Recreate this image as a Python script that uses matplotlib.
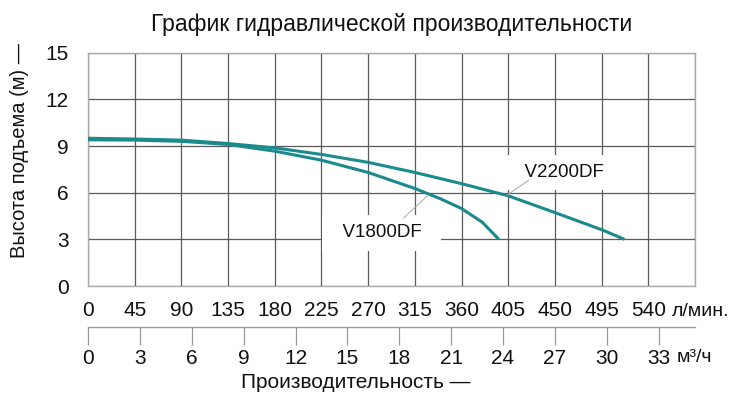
import numpy as np
import matplotlib
matplotlib.use("Agg")
import matplotlib.pyplot as plt

plt.rcParams['font.family'] = ['Liberation Sans', 'DejaVu Sans']

# Data (flow in l/min, head in m)
q_v2200 = [0, 45, 90, 135, 180, 225, 270, 315, 360, 405, 450, 495, 517]
h_v2200 = [9.5, 9.45, 9.38, 9.16, 8.88, 8.46, 7.95, 7.3, 6.58, 5.8, 4.72, 3.62, 3.0]
q_v1800 = [0, 45, 90, 135, 180, 225, 270, 315, 340, 360, 380, 396]
h_v1800 = [9.4, 9.38, 9.3, 9.1, 8.67, 8.09, 7.3, 6.27, 5.6, 4.98, 4.1, 3.0]

x_ticks = list(range(0, 586, 45))
x_labels = [str(v) for v in range(0, 541, 45)] + ['']
y_ticks = [0, 3, 6, 9, 12, 15]
m3_ticks = list(range(0, 34, 3))

title = "График гидравлической производительности"
ylabel = "Высота подъема (м) —"
xlabel = "Производительность —"

W, H = 731, 398
fig = plt.figure(figsize=(W / 100, H / 100), dpi=100)
ax = fig.add_axes([88 / W, 1 - 286 / H, 607 / W, 233.3 / H])

teal = '#1b8a8c'
ax.plot(q_v2200, h_v2200, color=teal, lw=2.2, zorder=4, solid_capstyle='butt',
        solid_joinstyle='round')
ax.plot(q_v1800, h_v1800, color=teal, lw=2.2, zorder=4, solid_capstyle='butt',
        solid_joinstyle='round')

ax.set_xlim(0, 585)
ax.set_ylim(0, 15)
ax.set_xticks(x_ticks)
ax.set_xticklabels(x_labels)
ax.set_yticks(y_ticks)
ax.grid(True, color='#5a5a5a', lw=0.9, zorder=1)
ax.set_axisbelow(True)
for s in ax.spines.values():
    s.set_color('#aaaaaa')
    s.set_linewidth(1.0)
ax.tick_params(axis='x', length=0, pad=11, labelsize=15, colors='#111111')
ax.tick_params(axis='y', length=0, pad=14, labelsize=15, colors='#111111')

# secondary axis m3/h
sec = ax.secondary_xaxis(-0.1745, functions=(lambda q: np.asarray(q) * 0.06,
                                               lambda m: np.asarray(m) / 0.06))
sec.set_xticks(m3_ticks)
sec.tick_params(axis='x', direction='out', length=13, width=0.9, color='#999999',
                pad=3, labelsize=15, labelcolor='#111111')
sec.spines['bottom'].set_color('#999999')
sec.spines['bottom'].set_linewidth(1.0)

# unit labels
fig.text(672 / W, 1 - 311 / H, "л/мин.", fontsize=14, ha='left', va='center', color='#111111')
fig.text(677 / W, 1 - 357 / H, "м³/ч", fontsize=14, ha='left', va='center', color='#111111')

# title and axis labels
fig.text(392 / W, 1 - 24 / H, title, fontsize=16.5, ha='center', va='center', color='#111111')
fig.text(20 / W, 1 - 151 / H, ylabel, fontsize=14.5, rotation=90, ha='center', va='center',
         color='#111111')
fig.text(356 / W, 1 - 383 / H, xlabel, fontsize=15, ha='center', va='center', color='#111111')

# curve labels
box = dict(boxstyle='square,pad=0.5', fc='white', ec='none')
ax.text(marks_x := 459, 7.3, "  V2200DF  ", fontsize=13.5, ha='center', va='center', bbox=box,
        zorder=3, color='#111111')
ax.text(283, 3.42, "  V1800DF  ", fontsize=13.5, ha='center', va='center', bbox=box, zorder=3,
        color='#111111')
lp = dict(arrowstyle='-', color='#aaaaaa', lw=0.7, shrinkA=0, shrinkB=0)
ax.annotate("", xy=(404, 5.85), xytext=(425, 6.81), arrowprops=lp, zorder=5)
ax.annotate("", xy=(328, 5.85), xytext=(304, 4.37), arrowprops=lp, zorder=5)

fig.savefig("out.png", dpi=100)
